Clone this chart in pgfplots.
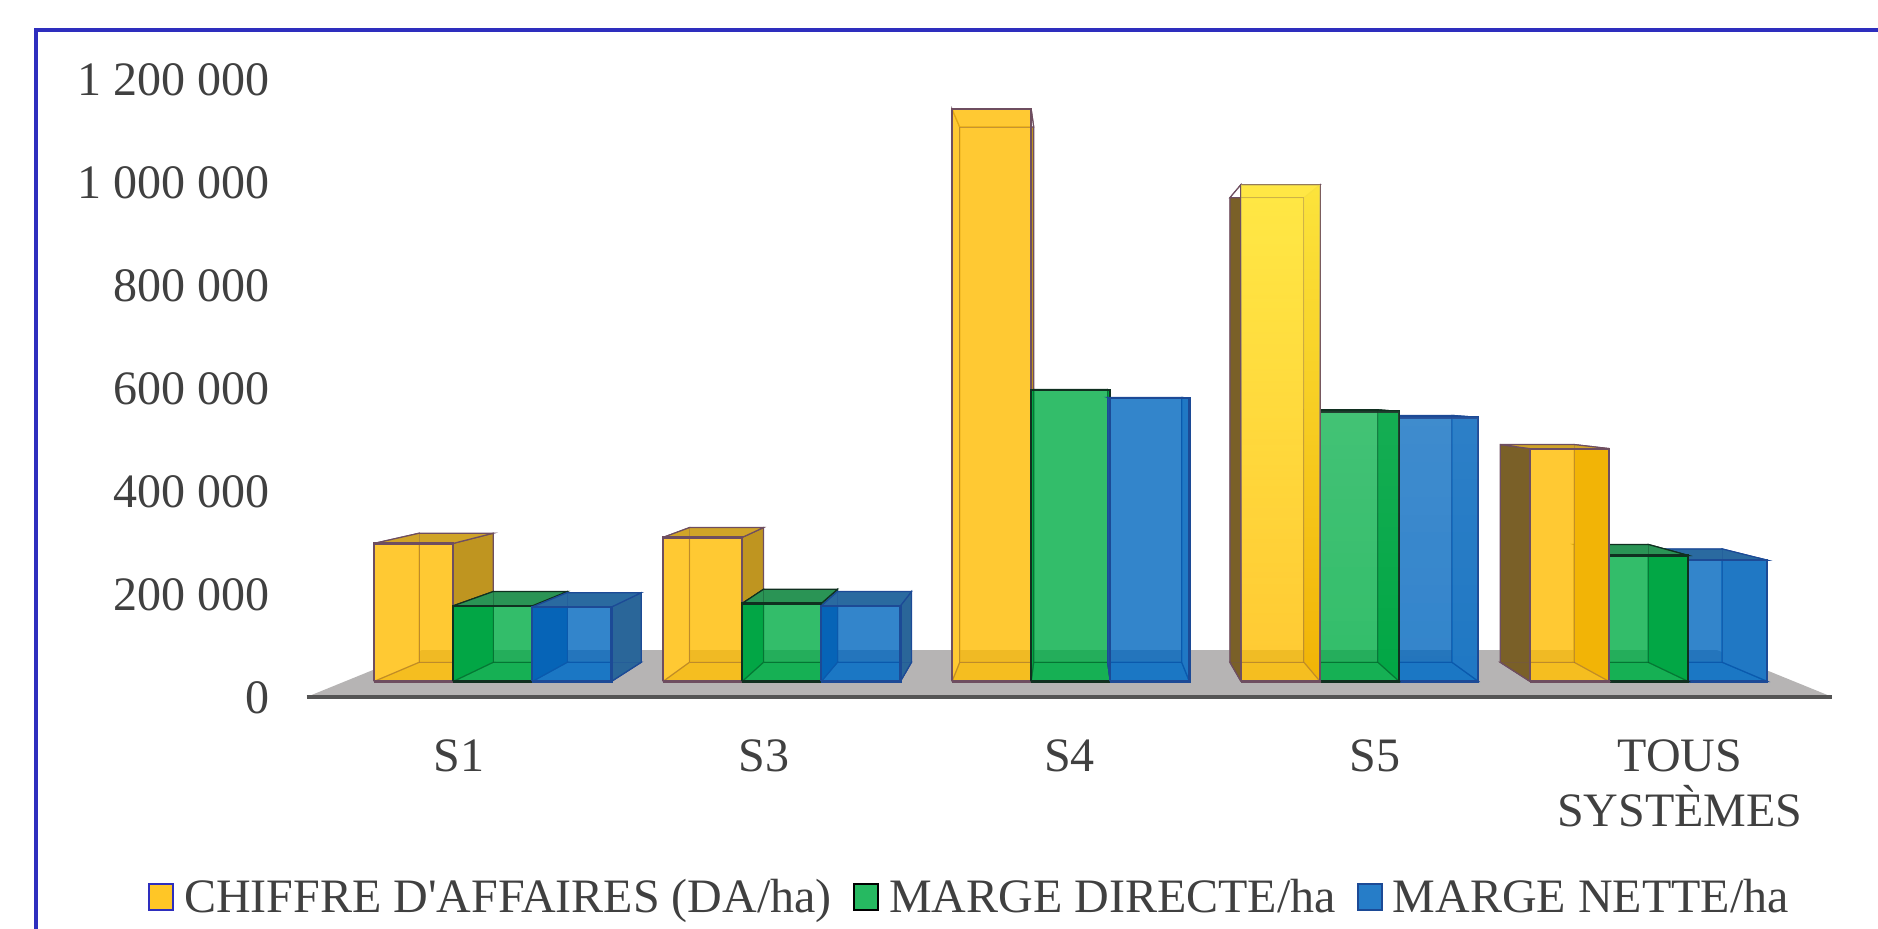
\documentclass[border=0pt]{standalone}
\usepackage{fontspec}
\setmainfont{Liberation Serif}[Ligatures=TeXOff]
\usepackage{pgfplots}
\usetikzlibrary{fadings}
\pgfplotsset{compat=1.18}

\definecolor{framecol}{HTML}{2E2EBE}
\definecolor{txt}{HTML}{404040}
\definecolor{floorcol}{HTML}{B6B4B4}
\definecolor{glow}{HTML}{FFF04A}
% yellow series
\definecolor{Yfront}{HTML}{FFBC00}\definecolor{Yleft}{HTML}{7A6028}\definecolor{Yright}{HTML}{BF9520}
\definecolor{Ytop}{HTML}{D0A428}\definecolor{Ybot}{HTML}{CDC8A0}\definecolor{Yedge}{HTML}{6E4E60}
\definecolor{Yinner}{HTML}{FFFFFF}\definecolor{Yiright}{HTML}{BF9520}
% green series
\definecolor{Gfront}{HTML}{00AD45}\definecolor{Gleft}{HTML}{0E8A48}\definecolor{Gright}{HTML}{0B8F45}
\definecolor{Gtop}{HTML}{2A9455}\definecolor{Gbot}{HTML}{70BC90}\definecolor{Gedge}{HTML}{103020}
\definecolor{Ginner}{HTML}{0E8A48}\definecolor{Giright}{HTML}{0B8F45}
% blue series
\definecolor{Bfront}{HTML}{0066BE}\definecolor{Bleft}{HTML}{1F5E9E}\definecolor{Bright}{HTML}{2A6699}
\definecolor{Btop}{HTML}{2A6AA0}\definecolor{Bbot}{HTML}{87BEDC}\definecolor{Bedge}{HTML}{1C4A96}
\definecolor{Binner}{HTML}{1F5E9E}\definecolor{Biright}{HTML}{A0C0E0}

% one 3D bar: left x, value, series prefix, options of a glow over the front
\newcommand{\tdbar}[4]{%
  \edef\xa{#1}\edef\xb{\fpeval{#1+0.2593}}%
  \edef\xc{\fpeval{round(#1+0.065*(2.004-(#1)),4)}}%
  \edef\xd{\fpeval{round(\xb+0.065*(2.004-\xb),4)}}%
  \edef\ya{30290}\edef\yb{#2}%
  \edef\yc{67550}%
  \edef\yd{\fpeval{round(#2+0.065*(603470-#2),0)}}%
  \ifdim\xc pt<\xa pt\def\leftcol{#3left}\else\def\leftcol{#3inner}\fi
  \ifdim\xd pt>\xb pt\def\rightcol{#3right}\else\def\rightcol{#3iright}\fi
  \ifnum\yd<#2\relax\def\topcol{#3inner}\else\def\topcol{#3top}\fi
  \addplot[forget plot,line width=.6pt,fill=#3bot,draw=#3edge] coordinates {(\xa,\ya)(\xb,\ya)(\xd,\yc)(\xc,\yc)(\xa,\ya)};
  \edef\tmp{\noexpand\addplot[forget plot,line width=.6pt,fill=\leftcol,draw=#3edge] coordinates {(\xa,\ya)(\xa,\yb)(\xc,\yd)(\xc,\yc)(\xa,\ya)};}\tmp
  \edef\tmp{\noexpand\addplot[forget plot,line width=.6pt,fill=\rightcol,draw=#3edge] coordinates {(\xb,\ya)(\xb,\yb)(\xd,\yd)(\xd,\yc)(\xb,\ya)};}\tmp
  \edef\tmp{\noexpand\addplot[forget plot,line width=.6pt,fill=\topcol,draw=#3edge] coordinates {(\xa,\yb)(\xb,\yb)(\xd,\yd)(\xc,\yd)(\xa,\yb)};}\tmp
  \addplot[forget plot,line width=1.1pt,fill=#3front,fill opacity=.8,draw=#3edge] coordinates {(\xa,\ya)(\xa,\yb)(\xb,\yb)(\xb,\ya)(\xa,\ya)};
  \ifx\relax#4\relax\else
    \addplot[forget plot,draw=none,path fading=south,#4] coordinates {(\xa,\ya)(\xa,\yb)(\xb,\yb)(\xb,\ya)(\xa,\ya)};
  \fi
  \addplot[forget plot,line width=.5pt,draw=#3edge,draw opacity=.3] coordinates {(\xc,\yc)(\xc,\yd)(\xd,\yd)(\xd,\yc)(\xc,\yc)};
  \addplot[forget plot,line width=.5pt,draw=#3edge,draw opacity=.3] coordinates {(\xa,\ya)(\xc,\yc)};
  \addplot[forget plot,line width=.5pt,draw=#3edge,draw opacity=.3] coordinates {(\xb,\ya)(\xd,\yc)};
}

\begin{document}
\begin{tikzpicture}
\path[use as bounding box] (0,0) rectangle (939pt,464pt);
\draw[framecol,line width=2pt] (18pt,-2pt) -- (18pt,449pt) -- (941pt,449pt);
\begin{axis}[
  at={(153.3pt,115.5pt)},anchor=south west,
  scale only axis,width=762.9pt,height=309pt,
  clip=false,
  xmin=-0.5,xmax=4.5,ymin=0,ymax=1200000,
  axis line style={draw=none},
  tick style={draw=none},major tick length=0pt,
  xtick={0,1,2,3,4},
  xticklabels={S1,S3,S4,S5,{TOUS\\SYSTÈMES}},
  ytick={0,200000,400000,600000,800000,1000000,1200000},
  scaled y ticks=false,
  xticklabel pos=bottom,yticklabel pos=left,
  every tick label/.append style={font=\fontsize{24}{27.5}\selectfont,text=txt},
  x tick label style={align=center,anchor=north,yshift=-18pt},
  y tick label style={/pgf/number format/fixed,/pgf/number format/1000 sep={\ },/pgf/number format/assume math mode=true,anchor=east,xshift=-15pt,yshift=-.5pt},
  legend style={at={(0.435,-0.3236)},anchor=center,draw=none,fill=none,
    legend columns=-1,font=\fontsize{24}{27.5}\selectfont,text=txt,
    /tikz/every odd column/.append style={column sep=3pt},
    /tikz/every even column/.append style={column sep=8.5pt}},
  legend image code/.code={\draw[#1,line width=1.1pt] (0pt,-6.5pt) rectangle (12pt,6.5pt);},
]
% floor of the chart
\addplot[forget plot,fill=floorcol,draw=none] coordinates {(-0.5,0)(4.5,0)(4.123,90870)(-0.123,90870)(-0.5,0)};
\addplot[forget plot,draw=black!67,line width=1.6pt] coordinates {(-0.5,0)(4.5,0)};

% S1
\tdbar{-0.279}{298240}{Y}{}
\tdbar{-0.0197}{177080}{G}{}
\tdbar{0.2397}{174750}{B}{}
% S3
\tdbar{0.668}{309890}{Y}{}
\tdbar{0.9273}{181740}{G}{}
\tdbar{1.1866}{177080}{B}{}
% S4
\tdbar{1.615}{1141700}{Y}{}
\tdbar{1.8743}{596480}{G}{}
\tdbar{2.1336}{580170}{B}{}
% S5
\tdbar{3.0806}{542890}{B}{fill=white,fill opacity=.06}
\tdbar{2.8213}{554540}{G}{fill=white,fill opacity=.08}
\tdbar{2.562}{994910}{Y}{fill=glow,fill opacity=.8}
% TOUS SYSTEMES
\tdbar{4.0276}{265620}{B}{}
\tdbar{3.7683}{274940}{G}{}
\tdbar{3.509}{482310}{Y}{}

\addlegendimage{fill=Yfront!85!white,draw=framecol}
\addlegendentry{CHIFFRE D'AFFAIRES (DA/ha)}
\addlegendimage{fill=Gfront!85!white,draw=black}
\addlegendentry{MARGE DIRECTE/ha}
\addlegendimage{fill=Bfront!85!white,draw=Bedge}
\addlegendentry{MARGE NETTE/ha}
\end{axis}
\end{tikzpicture}
\end{document}
